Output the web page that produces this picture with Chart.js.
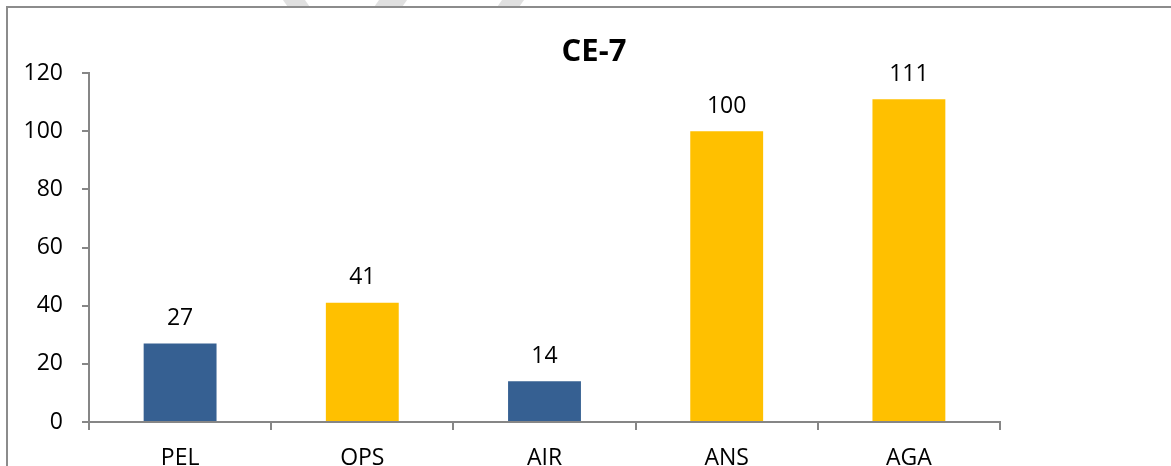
<!DOCTYPE html>
<html>
<head>
<meta charset="utf-8">
<script src="https://cdn.jsdelivr.net/npm/chart.js@4/dist/chart.umd.min.js"></script>
<style>
  html, body { margin: 0; padding: 0; background: #fff; overflow: hidden; width: 1171px; height: 466px; }
  .mark { position: absolute; top: -10px; height: 40px; background: #e0e0e0; z-index: 0; }
  .frame { position: absolute; left: 6px; top: 6px; width: 1200px; height: 520px;
           border: 2px solid #8c8c8c; background: #fff; z-index: 1; }
  #wrap { position: absolute; left: 0; top: 0; width: 1171px; height: 500px; z-index: 2; }
</style>
</head>
<body>
<div class="mark" style="left:290px; width:22px; transform: skewX(35deg);"></div>
<div class="mark" style="left:372px; width:28px; transform: skewX(-35deg);"></div>
<div class="mark" style="left:495px; width:22px; transform: skewX(-35deg);"></div>
<div class="frame"></div>
<div id="wrap"><canvas id="c" width="1171" height="500"></canvas></div>
<script>
// CE-7 counts per group
const categories = ['PEL', 'OPS', 'AIR', 'ANS', 'AGA'];
const counts = [27, 41, 14, 100, 111];
const barColors = ['#366092', '#FFC000', '#366092', '#FFC000', '#FFC000'];
const yTicks = [0, 20, 40, 60, 80, 100, 120];
const chartTitle = 'CE-7';

const FONT = "'Open Sans', 'DejaVu Sans', sans-serif";
const AXIS = '#868686';

const valueLabels = {
  id: 'valueLabels',
  afterDatasetsDraw(chart) {
    const ctx = chart.ctx;
    const meta = chart.getDatasetMeta(0);
    ctx.save();
    ctx.font = '23px ' + FONT;
    ctx.fillStyle = '#000';
    ctx.textAlign = 'center';
    ctx.textBaseline = 'middle';
    meta.data.forEach((bar, i) => {
      ctx.fillText(String(counts[i]), bar.x, bar.y - 25);
    });
    ctx.restore();
  }
};

const titleText = {
  id: 'titleText',
  afterDraw(chart) {
    const ctx = chart.ctx;
    ctx.save();
    ctx.font = 'bold 31px ' + FONT;
    ctx.fillStyle = '#000';
    ctx.textAlign = 'center';
    ctx.textBaseline = 'middle';
    ctx.fillText(chartTitle, 594, 52);
    ctx.restore();
  }
};

new Chart(document.getElementById('c'), {
  type: 'bar',
  data: {
    labels: categories,
    datasets: [{
      data: counts,
      backgroundColor: barColors,
      borderWidth: 0,
      barPercentage: 0.8,
      categoryPercentage: 0.5
    }]
  },
  options: {
    responsive: false,
    animation: false,
    layout: { padding: { left: 0, right: 171, top: 73, bottom: 0 } },
    plugins: {
      legend: { display: false },
      title: { display: false },
      tooltip: { enabled: false }
    },
    scales: {
      x: {
        afterFit(scale) { scale.height = 78; },
        grid: { display: true, drawOnChartArea: false, drawTicks: true, tickLength: 8,
                color: AXIS, lineWidth: 2, offset: true },
        border: { display: true, color: AXIS, width: 2 },
        ticks: { color: '#000', font: { family: FONT, size: 23 }, padding: 15 }
      },
      y: {
        min: 0,
        max: 120,
        afterFit(scale) { scale.width = 89; },
        afterBuildTicks(scale) { scale.ticks = yTicks.map(v => ({ value: v })); },
        grid: { display: true, drawOnChartArea: false, drawTicks: true, tickLength: 7,
                color: AXIS, lineWidth: 2 },
        border: { display: true, color: AXIS, width: 2 },
        ticks: { color: '#000', font: { family: FONT, size: 23 }, padding: 19 }
      }
    }
  },
  plugins: [valueLabels, titleText]
});
</script>
</body>
</html>
